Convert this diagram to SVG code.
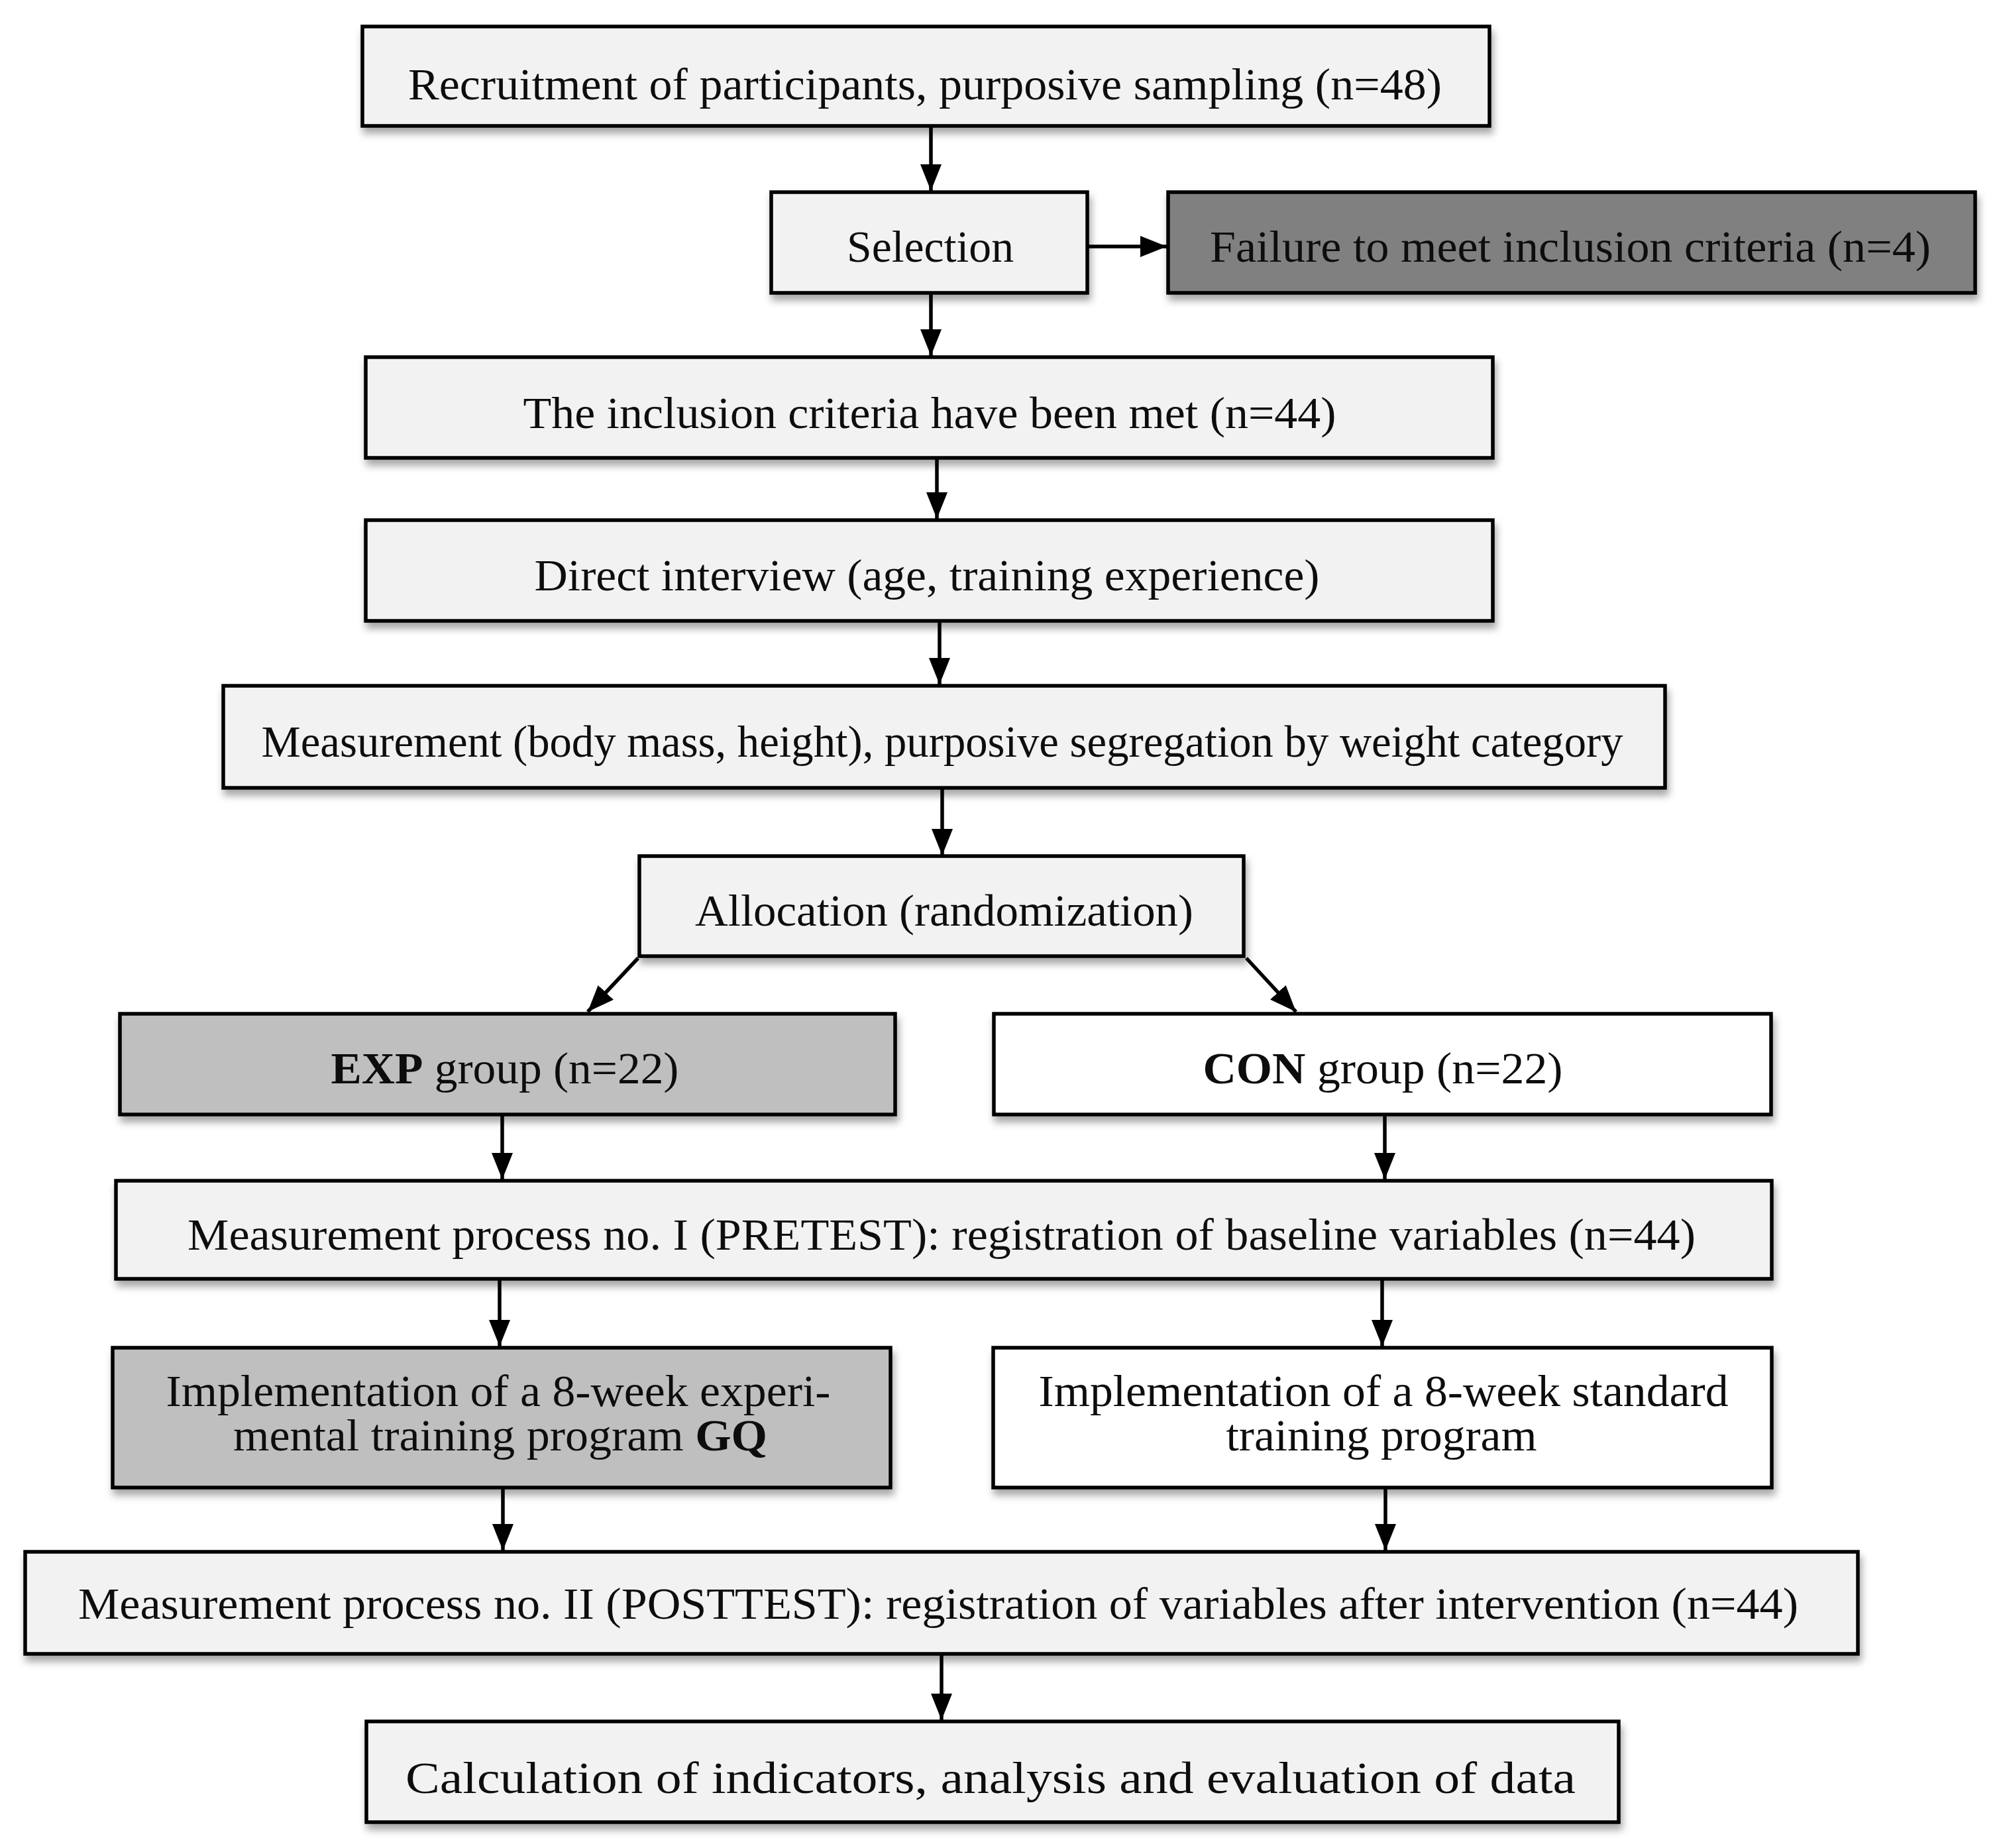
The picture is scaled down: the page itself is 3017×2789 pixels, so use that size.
<svg xmlns="http://www.w3.org/2000/svg" width="3017" height="2789" viewBox="0 0 3017 2789">
<style>
.box{stroke:#000;stroke-width:5.5}
.lt{fill:#f2f2f2}
.dk{fill:#808080}
.md{fill:#bfbfbf}
.wh{fill:#ffffff}
.t{font-family:"Liberation Serif","Times New Roman",serif;font-size:67px;fill:#111;text-anchor:middle}
.b{font-weight:bold}
.c{stroke:#000;stroke-width:5.5;fill:none;marker-end:url(#ah)}
</style>
<defs>
<filter id="sh" x="-5%" y="-20%" width="110%" height="150%">
<feDropShadow dx="3" dy="9" stdDeviation="6" flood-color="#000" flood-opacity="0.35"/>
</filter>
<marker id="ah" markerUnits="userSpaceOnUse" markerWidth="40" markerHeight="32" refX="40" refY="16" orient="auto">
<path d="M0,0 L40,16 L0,32 z" fill="#000"/>
</marker>
</defs>
<rect width="3017" height="2789" fill="#fff"/>
<g id="connectors">
<line class="c" x1="1405" y1="192" x2="1405" y2="288"/>
<line class="c" x1="1641" y1="372" x2="1761" y2="372"/>
<line class="c" x1="1405" y1="444" x2="1405" y2="537"/>
<line class="c" x1="1414" y1="693" x2="1414" y2="783"/>
<line class="c" x1="1418" y1="939" x2="1418" y2="1033"/>
<line class="c" x1="1422" y1="1191" x2="1422" y2="1291"/>
<line class="c" x1="963" y1="1446" x2="887" y2="1527"/>
<line class="c" x1="1881" y1="1446" x2="1956" y2="1527"/>
<line class="c" x1="758" y1="1684" x2="758" y2="1780"/>
<line class="c" x1="2090" y1="1684" x2="2090" y2="1780"/>
<line class="c" x1="754" y1="1932" x2="754" y2="2032"/>
<line class="c" x1="2086" y1="1932" x2="2086" y2="2032"/>
<line class="c" x1="759" y1="2247" x2="759" y2="2340"/>
<line class="c" x1="2091" y1="2247" x2="2091" y2="2340"/>
<line class="c" x1="1421" y1="2498" x2="1421" y2="2596"/>
</g>
<g id="n1" filter="url(#sh)">
<rect class="box lt" x="547" y="40" width="1701" height="150"/>
<text class="t" x="1396" y="150" textLength="1560" lengthAdjust="spacingAndGlyphs">Recruitment of participants, purposive sampling (n=48)</text>
</g>
<g id="n2" filter="url(#sh)">
<rect class="box lt" x="1164" y="290" width="477" height="152"/>
<text class="t" x="1404" y="395" textLength="252" lengthAdjust="spacingAndGlyphs">Selection</text>
</g>
<g id="n3" filter="url(#sh)">
<rect class="box dk" x="1763" y="290" width="1218" height="152"/>
<text class="t" x="2370" y="395" textLength="1088" lengthAdjust="spacingAndGlyphs">Failure to meet inclusion criteria (n=4)</text>
</g>
<g id="n4" filter="url(#sh)">
<rect class="box lt" x="552" y="539" width="1701" height="152"/>
<text class="t" x="1403" y="646" textLength="1227" lengthAdjust="spacingAndGlyphs">The inclusion criteria have been met (n=44)</text>
</g>
<g id="n5" filter="url(#sh)">
<rect class="box lt" x="552" y="785" width="1701" height="152"/>
<text class="t" x="1399" y="891" textLength="1185" lengthAdjust="spacingAndGlyphs">Direct interview (age, training experience)</text>
</g>
<g id="n6" filter="url(#sh)">
<rect class="box lt" x="337" y="1035" width="2176" height="154"/>
<text class="t" x="1422" y="1142" textLength="2055" lengthAdjust="spacingAndGlyphs">Measurement (body mass, height), purposive segregation by weight category</text>
</g>
<g id="n7" filter="url(#sh)">
<rect class="box lt" x="965" y="1292" width="912" height="151"/>
<text class="t" x="1425" y="1397" textLength="752" lengthAdjust="spacingAndGlyphs">Allocation (randomization)</text>
</g>
<g id="n8" filter="url(#sh)">
<rect class="box md" x="181" y="1530" width="1170" height="152"/>
<text class="t" x="762" y="1635" textLength="525" lengthAdjust="spacingAndGlyphs"><tspan class="b">EXP</tspan> group (n=22)</text>
</g>
<g id="n9" filter="url(#sh)">
<rect class="box wh" x="1500" y="1530" width="1173" height="152"/>
<text class="t" x="2087" y="1635" textLength="543" lengthAdjust="spacingAndGlyphs"><tspan class="b">CON</tspan> group (n=22)</text>
</g>
<g id="n10" filter="url(#sh)">
<rect class="box lt" x="175" y="1782" width="2499" height="148"/>
<text class="t" x="1421" y="1886" textLength="2276" lengthAdjust="spacingAndGlyphs">Measurement process no. I (PRETEST): registration of baseline variables (n=44)</text>
</g>
<g id="n11" filter="url(#sh)">
<rect class="box md" x="170" y="2034" width="1174" height="211"/>
<text class="t" x="752" y="2122" textLength="1003" lengthAdjust="spacingAndGlyphs">Implementation of a 8-week experi-</text>
<text class="t" x="755" y="2189" textLength="806" lengthAdjust="spacingAndGlyphs">mental training program <tspan class="b">GQ</tspan></text>
</g>
<g id="n12" filter="url(#sh)">
<rect class="box wh" x="1499" y="2034" width="1175" height="211"/>
<text class="t" x="2088" y="2122" textLength="1041" lengthAdjust="spacingAndGlyphs">Implementation of a 8-week standard</text>
<text class="t" x="2085" y="2189" textLength="469" lengthAdjust="spacingAndGlyphs">training program</text>
</g>
<g id="n13" filter="url(#sh)">
<rect class="box lt" x="38" y="2342" width="2766" height="154"/>
<text class="t" x="1416" y="2443" textLength="2596" lengthAdjust="spacingAndGlyphs">Measurement process no. II (POSTTEST): registration of variables after intervention (n=44)</text>
</g>
<g id="n14" filter="url(#sh)">
<rect class="box lt" x="553" y="2598" width="1890" height="152"/>
<text class="t" x="1495" y="2706" textLength="1766" lengthAdjust="spacingAndGlyphs">Calculation of indicators, analysis and evaluation of data</text>
</g>
</svg>
